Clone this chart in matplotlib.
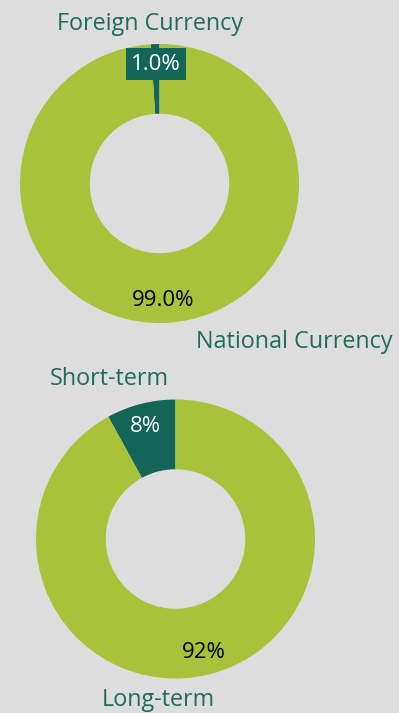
import matplotlib.pyplot as plt

# currency split and maturity split of the portfolio
currency_labels = ["Foreign Currency", "National Currency"]
currency_share = [1.0, 99.0]
maturity_labels = ["Short-term", "Long-term"]
maturity_share = [8, 92]

BG = "#dddddd"
LIME = "#a8c23a"
TEAL = "#136657"
TEXT_TEAL = "#1f6b5e"

plt.rcParams['font.family'] = ['Open Sans', 'DejaVu Sans']

W, H = 399, 713
fig = plt.figure(figsize=(W / 100, H / 100), dpi=100, facecolor=BG)
ax = fig.add_axes([0, 0, 1, 1])

R = 139.5
ring = dict(width=R * 0.5, edgecolor="none")
VAL_FS = 16
CAT_FS = 16.8

# top donut: currency
c1 = (159.5, H - 183.5)
ax.pie(currency_share, colors=[TEAL, LIME], startangle=90, counterclock=True,
       center=c1, radius=R, wedgeprops=ring, frame=True)
ax.text(156, H - 64, f"{currency_share[0]:.1f}%", color="white", fontsize=VAL_FS,
        ha="center", va="center",
        bbox=dict(boxstyle="square,pad=0.25", fc=TEAL, ec="none"))
ax.text(163, H - 300, f"{currency_share[1]:.1f}%", color="black", fontsize=VAL_FS,
        ha="center", va="center")
ax.text(150, H - 24, currency_labels[0], color=TEXT_TEAL, fontsize=CAT_FS,
        ha="center", va="center")
ax.text(294, H - 342, currency_labels[1], color=TEXT_TEAL, fontsize=CAT_FS,
        ha="center", va="center")

# bottom donut: maturity
c2 = (175.5, H - 539)
ax.pie(maturity_share, colors=[TEAL, LIME], startangle=90, counterclock=True,
       center=c2, radius=R, wedgeprops=ring, frame=True)
ax.text(145, H - 426, f"{maturity_share[0]}%", color="white", fontsize=VAL_FS,
        ha="center", va="center")
ax.text(204, H - 653, f"{maturity_share[1]}%", color="black", fontsize=VAL_FS,
        ha="center", va="center")
ax.text(109, H - 379, maturity_labels[0], color=TEXT_TEAL, fontsize=CAT_FS,
        ha="center", va="center")
ax.text(158, H - 700, maturity_labels[1], color=TEXT_TEAL, fontsize=CAT_FS,
        ha="center", va="center")

ax.set_xlim(0, W)
ax.set_ylim(0, H)
ax.set_aspect("equal")
ax.axis("off")

fig.savefig("out.png", dpi=100, facecolor=BG)
